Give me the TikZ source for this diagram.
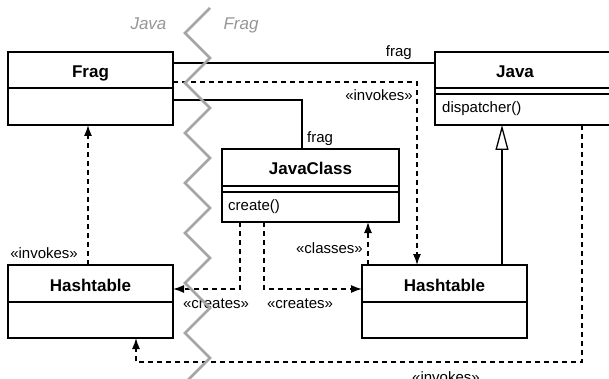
\documentclass[tikz,border=0pt]{standalone}
\usepackage{fontspec}
\setmainfont{Liberation Sans}
\usetikzlibrary{arrows.meta,calc}
\definecolor{zig}{RGB}{165,165,165}
\definecolor{sidegray}{RGB}{150,150,150}
\begin{document}
\begin{tikzpicture}[x=1pt,y=-1pt,
 cls/.style={draw, line width=1.3pt, inner sep=0pt, outer sep=0pt, fill=white},
 cname/.style={font=\fontsize{17}{20}\selectfont\bfseries, inner sep=0pt, anchor=base},
 meth/.style={font=\fontsize{15}{18}\selectfont, inner sep=0pt, anchor=base west},
 lbl/.style={font=\fontsize{15}{18}\selectfont, inner sep=0pt},
 sep/.style={line width=1.3pt},
 assoc/.style={line width=1.3pt},
 dep/.style={line width=1.3pt, dash pattern=on 5pt off 4pt, -{Latex[length=11pt,width=8pt]}},
 gen/.style={line width=1.3pt, -{Triangle[open,length=25pt,width=13pt]}},
 side/.style={font=\fontsize{17}{20}\selectfont\itshape, text=sidegray, inner sep=0pt, anchor=base},
]
\useasboundingbox (0,0) rectangle (609,379);

% classes
\node[cls, minimum width=165pt, minimum height=73pt] (frag) at (90.5,88.5) {};
\node[cls, minimum width=177pt, minimum height=73pt] (java) at (523.5,88.5) {};
\node[cls, minimum width=177pt, minimum height=73pt] (jc) at (310.5,185.5) {};
\node[cls, minimum width=165pt, minimum height=73pt] (hl) at (90.5,301.5) {};
\node[cls, minimum width=165pt, minimum height=73pt] (hr) at (444.5,301.5) {};

% compartments
\draw[sep] ($(frag.north west)+(0,36)$) -- ($(frag.north east)+(0,36)$);
\draw[sep] ($(java.north west)+(0,36)$) -- ($(java.north east)+(0,36)$);
\draw[sep] ($(java.north west)+(0,42)$) -- ($(java.north east)+(0,42)$);
\draw[sep] ($(jc.north west)+(0,37)$) -- ($(jc.north east)+(0,37)$);
\draw[sep] ($(jc.north west)+(0,43)$) -- ($(jc.north east)+(0,43)$);
\draw[sep] ($(hl.north west)+(0,37)$) -- ($(hl.north east)+(0,37)$);
\draw[sep] ($(hr.north west)+(0,37)$) -- ($(hr.north east)+(0,37)$);

% names and operations
\node[cname] (fragT) at (90.5,78) {Frag};
\node[cname] (javaT) at (515,78) {Java};
\node[cname] (jcT) at (310.5,175) {JavaClass};
\node[cname] (hlT) at (90.5,291) {Hashtable};
\node[cname] (hrT) at (444.5,291) {Hashtable};
\node[meth] (javaM) at (442,113) {dispatcher()};
\node[meth] (jcM) at (228,211) {create()};

% connectors
\draw[assoc] ($(frag.north east)+(0,11)$) -- ($(java.north west)+(0,11)$);
\draw[dep] ($(frag.north east)+(0,30)$) -| ($(hr.north west)+(55,0)$);
\draw[assoc] ($(frag.north east)+(0,48)$) -| ($(jc.north west)+(80,0)$);
\draw[dep] ($(hl.north west)+(80,0)$) -- ($(frag.south west)+(80,0)$);
\draw[dep] ($(jc.south west)+(18,0)$) |- ($(hl.north east)+(0,24)$);
\draw[dep] ($(jc.south west)+(42,0)$) |- ($(hr.north west)+(0,24)$);
\draw[dep] ($(hr.north west)+(6,0)$) -- ($(jc.south west)+(146,0)$);
\draw[gen] ($(hr.north west)+(140,0)$) -- ($(java.south west)+(67,0)$);
\coordinate (turn) at ($(java.south west)+(147,237)$);
\draw[dep] ($(java.south west)+(147,0)$) -- (turn) -| ($(hl.south west)+(128,0)$);

% connector labels
\node[lbl, anchor=base east] (l1) at (412,57) {frag};
\node[lbl, anchor=base east] (l2) at (413,101) {«invokes»};
\node[lbl, anchor=base west] (l3) at (307,143) {frag};
\node[lbl, anchor=base east] (l4) at (78,258) {«invokes»};
\node[lbl, anchor=base] (l5) at (216,308) {«creates»};
\node[lbl, anchor=base] (l6) at (300,308) {«creates»};
\node[lbl, anchor=base east] (l7) at (363,253) {«classes»};
\node[lbl, anchor=base] (l8) at (446,382) {«invokes»};

% boundary
\node[side] (sJava) at (148.5,30) {Java};
\node[side] (sFrag) at (241,30) {Frag};
\draw[zig, line width=2.5pt, line join=miter]
  (210,8) -- (185,33) -- (210,58) -- (185,83) -- (210,108) -- (185,133)
  -- (210,158) -- (185,183) -- (210,208) -- (185,233) -- (210,258)
  -- (185,283) -- (210,308) -- (185,333) -- (210,358) -- (185,383);
\end{tikzpicture}
\end{document}
